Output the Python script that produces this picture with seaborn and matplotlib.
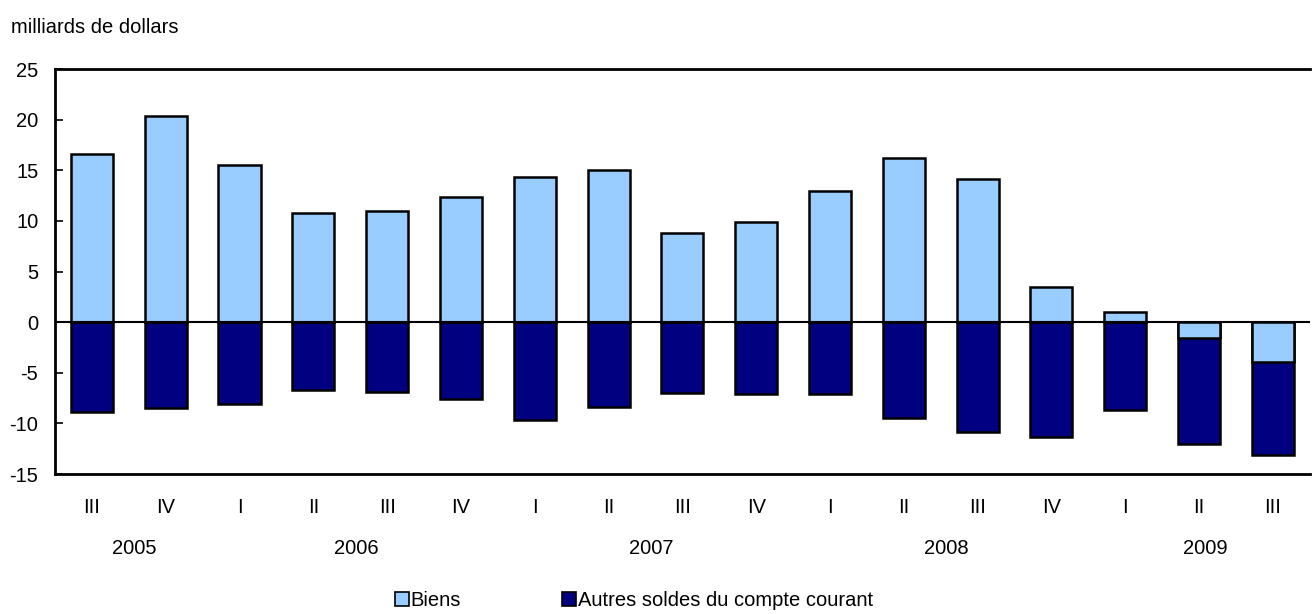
import numpy as np
import pandas as pd
import matplotlib
matplotlib.use("Agg")
import matplotlib.pyplot as plt
from matplotlib.patches import Patch
import seaborn as sns

quarters = ["III", "IV", "I", "II", "III", "IV", "I", "II", "III", "IV",
            "I", "II", "III", "IV", "I", "II", "III"]
years = ["2005", "2006", "2007", "2008", "2009"]
year_counts = [2, 4, 4, 4, 3]
biens = [16.6, 20.4, 15.5, 10.8, 11.0, 12.4, 14.3, 15.0, 8.8, 9.9,
         13.0, 16.2, 14.1, 3.5, 1.0, -1.6, -3.9]
autres = [-8.9, -8.5, -8.1, -6.7, -6.9, -7.6, -9.7, -8.4, -7.0, -7.1,
          -7.1, -9.5, -10.9, -11.3, -8.7, -10.4, -9.2]

sns.set_theme(style="white")
plt.rcParams["font.family"] = ["Liberation Sans", "DejaVu Sans"]
plt.rcParams["text.color"] = "black"
plt.rcParams["xtick.color"] = "black"
plt.rcParams["ytick.color"] = "black"

FS = 14.5

idx = [f"{i:02d}" for i in range(len(quarters))]
df = pd.DataFrame({"idx": idx, "biens": biens, "autres": autres})
# dark bar extends from 0 to the stacked negative end
df["neg_total"] = np.minimum(df["biens"], 0) + df["autres"]

fig = plt.figure(figsize=(13.15, 6.14), dpi=100)
ax = fig.add_axes([0.0418, 0.228, 0.9542, 0.6596])

light = "#99CCFF"
navy = "#000080"

sns.barplot(data=df, x="idx", y="neg_total", color=navy, width=0.57,
            edgecolor="black", linewidth=1.8, saturation=1, ax=ax, zorder=2)
sns.barplot(data=df, x="idx", y="biens", color=light, width=0.57,
            edgecolor="black", linewidth=1.8, saturation=1, ax=ax, zorder=3)

ax.axhline(0, color="black", linewidth=1.5, zorder=4)
ax.set_xlim(-0.5, len(quarters) - 0.5)
ax.set_ylim(-15, 25)
ax.set_yticks(np.arange(-15, 26, 5))
ax.set_yticklabels([str(v) for v in range(-15, 26, 5)], fontsize=FS)
ax.tick_params(axis="y", direction="in", length=6, width=1.2, color="black",
               left=True, pad=12, labelcolor="black")
ax.set_xticks(range(len(quarters)))
ax.set_xticklabels(quarters, fontsize=FS)
ax.tick_params(axis="x", length=0, pad=17, labelcolor="black")
ax.set_xlabel("")
ax.set_ylabel("")

for s in ["left", "top", "bottom"]:
    ax.spines[s].set_visible(True)
    ax.spines[s].set_color("black")
    ax.spines[s].set_linewidth(2)
ax.spines["right"].set_visible(False)

# year labels centered under their quarters
start = 0
for yr, n in zip(years, year_counts):
    center = start + (n - 1) / 2
    ax.text(center + 0.08, -0.185, yr, transform=ax.get_xaxis_transform(),
            ha="center", va="center", fontsize=FS, color="black")
    start += n

fig.text(0.008, 0.955, "milliards de dollars", fontsize=FS, ha="left",
         va="center", color="black")

handles = [Patch(facecolor=light, edgecolor="black", linewidth=1.2, label="Biens"),
           Patch(facecolor=navy, edgecolor="black", linewidth=1.2,
                 label="Autres soldes du compte courant")]
leg = fig.legend(handles=handles, loc="center", bbox_to_anchor=(0.482, 0.022), ncol=2,
                 frameon=False, fontsize=FS, handlelength=0.7, handleheight=0.7,
                 handletextpad=0.1, columnspacing=5.0, borderaxespad=0)
for t in leg.get_texts():
    t.set_color("black")

fig.savefig("out.png", dpi=100)
